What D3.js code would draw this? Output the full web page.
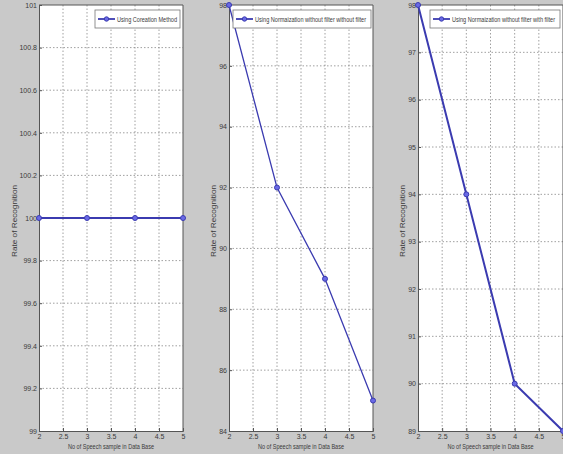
<!DOCTYPE html>
<html>
<head>
<meta charset="utf-8">
<script src="https://d3js.org/d3.v7.min.js"></script>
<style>
body { margin: 0; background: #c9c9c9; }
svg { display: block; }
text { font-family: "Liberation Sans", Arial, sans-serif; fill: #3a3a3a; }
.grid line { stroke: #888; stroke-width: 0.8; stroke-dasharray: 1.5,2; }
</style>
</head>
<body>
<svg width="563" height="454"></svg>
<script>
// data
var xValues = [2, 3, 4, 5];
var correlation = [100, 100, 100, 100];
var normNoFilter = [98, 92, 89, 85];
var normWithFilter = [98, 94, 90, 89];

var xTicks = [2, 2.5, 3, 3.5, 4, 4.5, 5];
var yTicks1 = [99, 99.2, 99.4, 99.6, 99.8, 100, 100.2, 100.4, 100.6, 100.8, 101];
var yTicks2 = [84, 86, 88, 90, 92, 94, 96, 98];
var yTicks3 = [89, 90, 91, 92, 93, 94, 95, 96, 97, 98];

var legend1 = "Using Coreation Method";
var legend2 = "Using Normaization  without filter without filter";
var legend3 = "Using Normaization  without filter with filter";
var xTitle = "No of Speech sample in Data Base";
var yTitle = "Rate of Recognition";

var lineColor = "#3b3bb0";
var svg = d3.select("svg");

var panels = [
  {left: 39, right: 183, values: correlation, yDomain: [99, 101], yTicks: yTicks1, legend: legend1, legX: 95, legW: 85, textW: 60, yLab: 17, lw: 2},
  {left: 229, right: 373, values: normNoFilter, yDomain: [84, 98], yTicks: yTicks2, legend: legend2, legX: 233, legW: 138, textW: 111, yLab: 216, lw: 1.3},
  {left: 418, right: 563, values: normWithFilter, yDomain: [89, 98], yTicks: yTicks3, legend: legend3, legX: 430, legW: 130, textW: 103, yLab: 405, lw: 2}
];

var plotTop = 5, plotBottom = 431;

panels.forEach(function(p) {
  var g = svg.append("g");
  var x = d3.scaleLinear().domain([2, 5]).range([p.left, p.right]);
  var y = d3.scaleLinear().domain(p.yDomain).range([plotBottom, plotTop]);

  // white plot area
  g.append("rect")
    .attr("x", p.left).attr("y", plotTop)
    .attr("width", p.right - p.left).attr("height", plotBottom - plotTop)
    .attr("fill", "#fff");

  // grid
  var grid = g.append("g").attr("class", "grid");
  grid.selectAll(".gx").data(xTicks.slice(1, -1)).enter().append("line")
    .attr("x1", d => x(d)).attr("x2", d => x(d))
    .attr("y1", plotTop).attr("y2", plotBottom);
  grid.selectAll(".gy").data(p.yTicks.slice(1, -1)).enter().append("line")
    .attr("x1", p.left).attr("x2", p.right)
    .attr("y1", d => y(d)).attr("y2", d => y(d));

  // axes
  var xAxis = d3.axisBottom(x).tickValues(xTicks).tickSize(-3).tickPadding(3)
    .tickFormat(d => String(d));
  var yAxis = d3.axisLeft(y).tickValues(p.yTicks).tickSize(-3).tickPadding(2)
    .tickFormat(d => String(+d.toFixed(1)));

  var ax = g.append("g").attr("transform", "translate(0," + plotBottom + ")").call(xAxis);
  var ay = g.append("g").attr("transform", "translate(" + p.left + ",0)").call(yAxis);
  [ax, ay].forEach(function(a) {
    a.select(".domain").attr("stroke", "#555");
    a.selectAll("line").attr("stroke", "#555");
    a.selectAll("text").attr("font-size", 7).attr("fill", "#3a3a3a")
      .attr("font-family", "Liberation Sans, Arial, sans-serif");
  });

  // box top and right
  g.append("line").attr("x1", p.left).attr("x2", p.right).attr("y1", plotTop).attr("y2", plotTop).attr("stroke", "#555");
  g.append("line").attr("x1", p.right).attr("x2", p.right).attr("y1", plotTop).attr("y2", plotBottom).attr("stroke", "#555");

  // line + markers
  var line = d3.line().x((d, i) => x(xValues[i])).y(d => y(d));
  g.append("path").datum(p.values)
    .attr("d", line).attr("fill", "none")
    .attr("stroke", lineColor).attr("stroke-width", p.lw);
  g.selectAll("circle").data(p.values).enter().append("circle")
    .attr("cx", (d, i) => x(xValues[i])).attr("cy", d => y(d))
    .attr("r", 2.5).attr("fill", "#6a6ae6").attr("stroke", lineColor).attr("stroke-width", 1);

  // legend
  var lg = g.append("g").attr("transform", "translate(" + p.legX + ",10)");
  lg.append("rect").attr("width", p.legW).attr("height", 18)
    .attr("fill", "#fff").attr("stroke", "#777").attr("stroke-width", 0.8);
  lg.append("line").attr("x1", 3).attr("x2", 20).attr("y1", 9).attr("y2", 9)
    .attr("stroke", lineColor).attr("stroke-width", 1.8);
  lg.append("circle").attr("cx", 11.5).attr("cy", 9).attr("r", 2.2)
    .attr("fill", "#6a6ae6").attr("stroke", lineColor);
  lg.append("text").attr("x", 22).attr("y", 12).attr("font-size", 7)
    .attr("textLength", p.textW).attr("lengthAdjust", "spacingAndGlyphs")
    .text(p.legend);

  // axis titles
  g.append("text")
    .attr("x", (p.left + p.right) / 2).attr("y", 449)
    .attr("text-anchor", "middle").attr("font-size", 7)
    .attr("textLength", 86).attr("lengthAdjust", "spacingAndGlyphs")
    .text(xTitle);
  g.append("text")
    .attr("transform", "translate(" + p.yLab + ",221) rotate(-90)")
    .attr("text-anchor", "middle").attr("font-size", 7)
    .attr("textLength", 72).attr("lengthAdjust", "spacingAndGlyphs")
    .text(yTitle);
});
</script>
</body>
</html>
